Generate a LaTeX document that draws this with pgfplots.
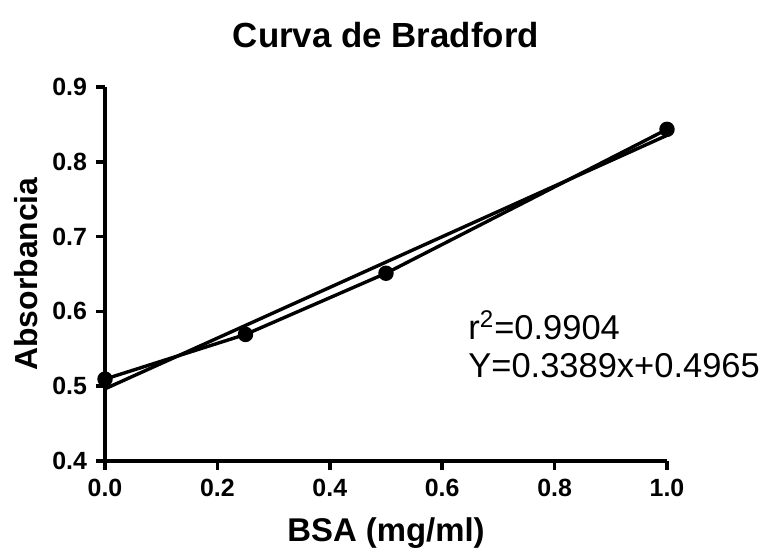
\documentclass[border=0pt]{standalone}
\usepackage{pgfplots}
\pgfplotsset{compat=1.18}
\usepackage{fontspec}
\setmainfont{Liberation Sans}
\usetikzlibrary{calc}
\begin{document}
\begin{tikzpicture}
\begin{axis}[
  name=a,
  at={(52.5bp,46bp)}, anchor=south west,
  scale only axis, width=281bp, height=187bp,
  xmin=0, xmax=1, ymin=0.4, ymax=0.9,
  axis lines=left,
  axis line style={line width=2bp, -},
  xtick={0,0.2,...,1.0}, ytick={0.4,0.5,...,0.9},
  tick align=outside, major tick length=4.5bp,
  every tick/.style={line width=1.8bp, black},
  every tick label/.append style={font=\fontsize{12.5}{14}\selectfont\bfseries},
  xticklabel style={yshift=-1bp},
  yticklabel style={xshift=-1bp},
  /pgf/number format/assume math mode=true,
  xticklabel={\pgfmathprintnumber[fixed,fixed zerofill,precision=1]{\tick}},
  yticklabel={\pgfmathprintnumber[fixed,fixed zerofill,precision=1]{\tick}},
  clip=false,
]
\addplot[black, line width=1.7bp, mark=*, mark size=3bp, mark options={solid,fill=black}]
  coordinates {(0,0.5095) (0.25,0.5692) (0.5,0.6510) (1.0,0.8434)};
\addplot[black, line width=1.7bp] coordinates {(0,0.4965) (1.0,0.8354)};
\node[anchor=base west, inner sep=0pt, font=\fontsize{17.3}{20}\selectfont] at (axis cs:0.646,0.5618) {r\textsuperscript{2}=0.9904};
\node[anchor=base west, inner sep=0pt, font=\fontsize{17.3}{20}\selectfont] at (axis cs:0.646,0.5110) {Y=0.3389x+0.4965};
\end{axis}
\node[anchor=base, font=\fontsize{17.5}{20}\selectfont\bfseries] at ($(a.north)+(0,20bp)$) {Curva de Bradford};
\node[anchor=base, font=\fontsize{16.5}{19}\selectfont\bfseries] at ($(a.south)+(0,-40bp)$) {BSA (mg/ml)};
\node[anchor=base, rotate=90, font=\fontsize{16}{19}\selectfont\bfseries] at ($(a.west)+(-34bp,0)$) {Absorbancia};
\pgfresetboundingbox
\useasboundingbox (0,0) rectangle (387bp,276.5bp);
\end{tikzpicture}
\end{document}
